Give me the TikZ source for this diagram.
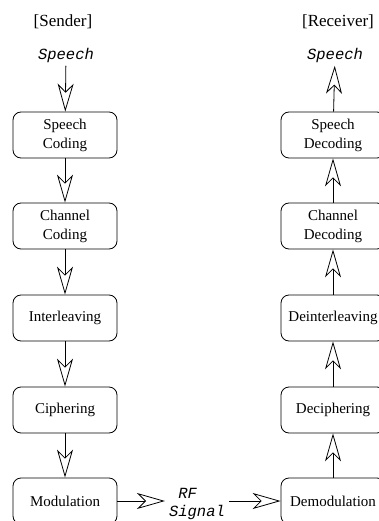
\documentclass[tikz,border=0pt]{standalone}
\usepackage{fontspec}
\setmainfont{Liberation Serif}
\setmonofont{Liberation Mono}
\usetikzlibrary{arrows.meta}

\tikzset{
  block/.style={draw, rounded corners=8pt, minimum width=104pt, minimum height=46pt,
    align=center, line width=0.8pt, font=\fontsize{15}{19}\selectfont},
  flow/.style={-{Stealth[open, length=28pt, width=16pt, inset=8pt]}, line width=0.8pt},
  sig/.style={font=\fontsize{15.5}{18}\selectfont\ttfamily\itshape},
  side/.style={font=\fontsize{17}{20}\selectfont},
}

\begin{document}
\begin{tikzpicture}[x=1pt, y=-1pt]
\useasboundingbox (0,0) rectangle (378,521);
% sender
\node [side] (sender) at (63,22) {[Sender]};
\node [sig] (spin) at (66,55) {Speech};
\node [block] (scod) at (65,135) {Speech\\Coding};
\node [block] (ccod) at (65,226) {Channel\\Coding};
\node [block] (intl) at (65,318) {Interleaving};
\node [block] (ciph) at (65,410) {Ciphering};
\node [block] (modu) at (65,501) {Modulation};
% channel
\node [sig, align=left, inner sep=4pt] (rf) at (197,504) {\phantom{S}RF\\Signal};
% receiver
\node [side] (receiver) at (338,22) {[Receiver]};
\node [sig] (spout) at (335,55) {Speech};
\node [block] (sdec) at (333,135) {Speech\\Decoding};
\node [block] (cdec) at (333,226) {Channel\\Decoding};
\node [block] (dint) at (333,318) {Deinterleaving};
\node [block] (deci) at (333,410) {Deciphering};
\node [block] (demo) at (333,501) {Demodulation};
% arrows
\draw [flow] (spin) -- (scod);
\draw [flow] (scod) -- (ccod);
\draw [flow] (ccod) -- (intl);
\draw [flow] (intl) -- (ciph);
\draw [flow] (ciph) -- (modu);
\draw [flow] (modu.east) -- (rf.west |- modu.east);
\draw [flow] (rf.east |- demo.west) -- (demo.west);
\draw [flow] (demo) -- (deci);
\draw [flow] (deci) -- (dint);
\draw [flow] (dint) -- (cdec);
\draw [flow] (cdec) -- (sdec);
\draw [flow] (sdec) -- (spout);
\end{tikzpicture}
\end{document}
